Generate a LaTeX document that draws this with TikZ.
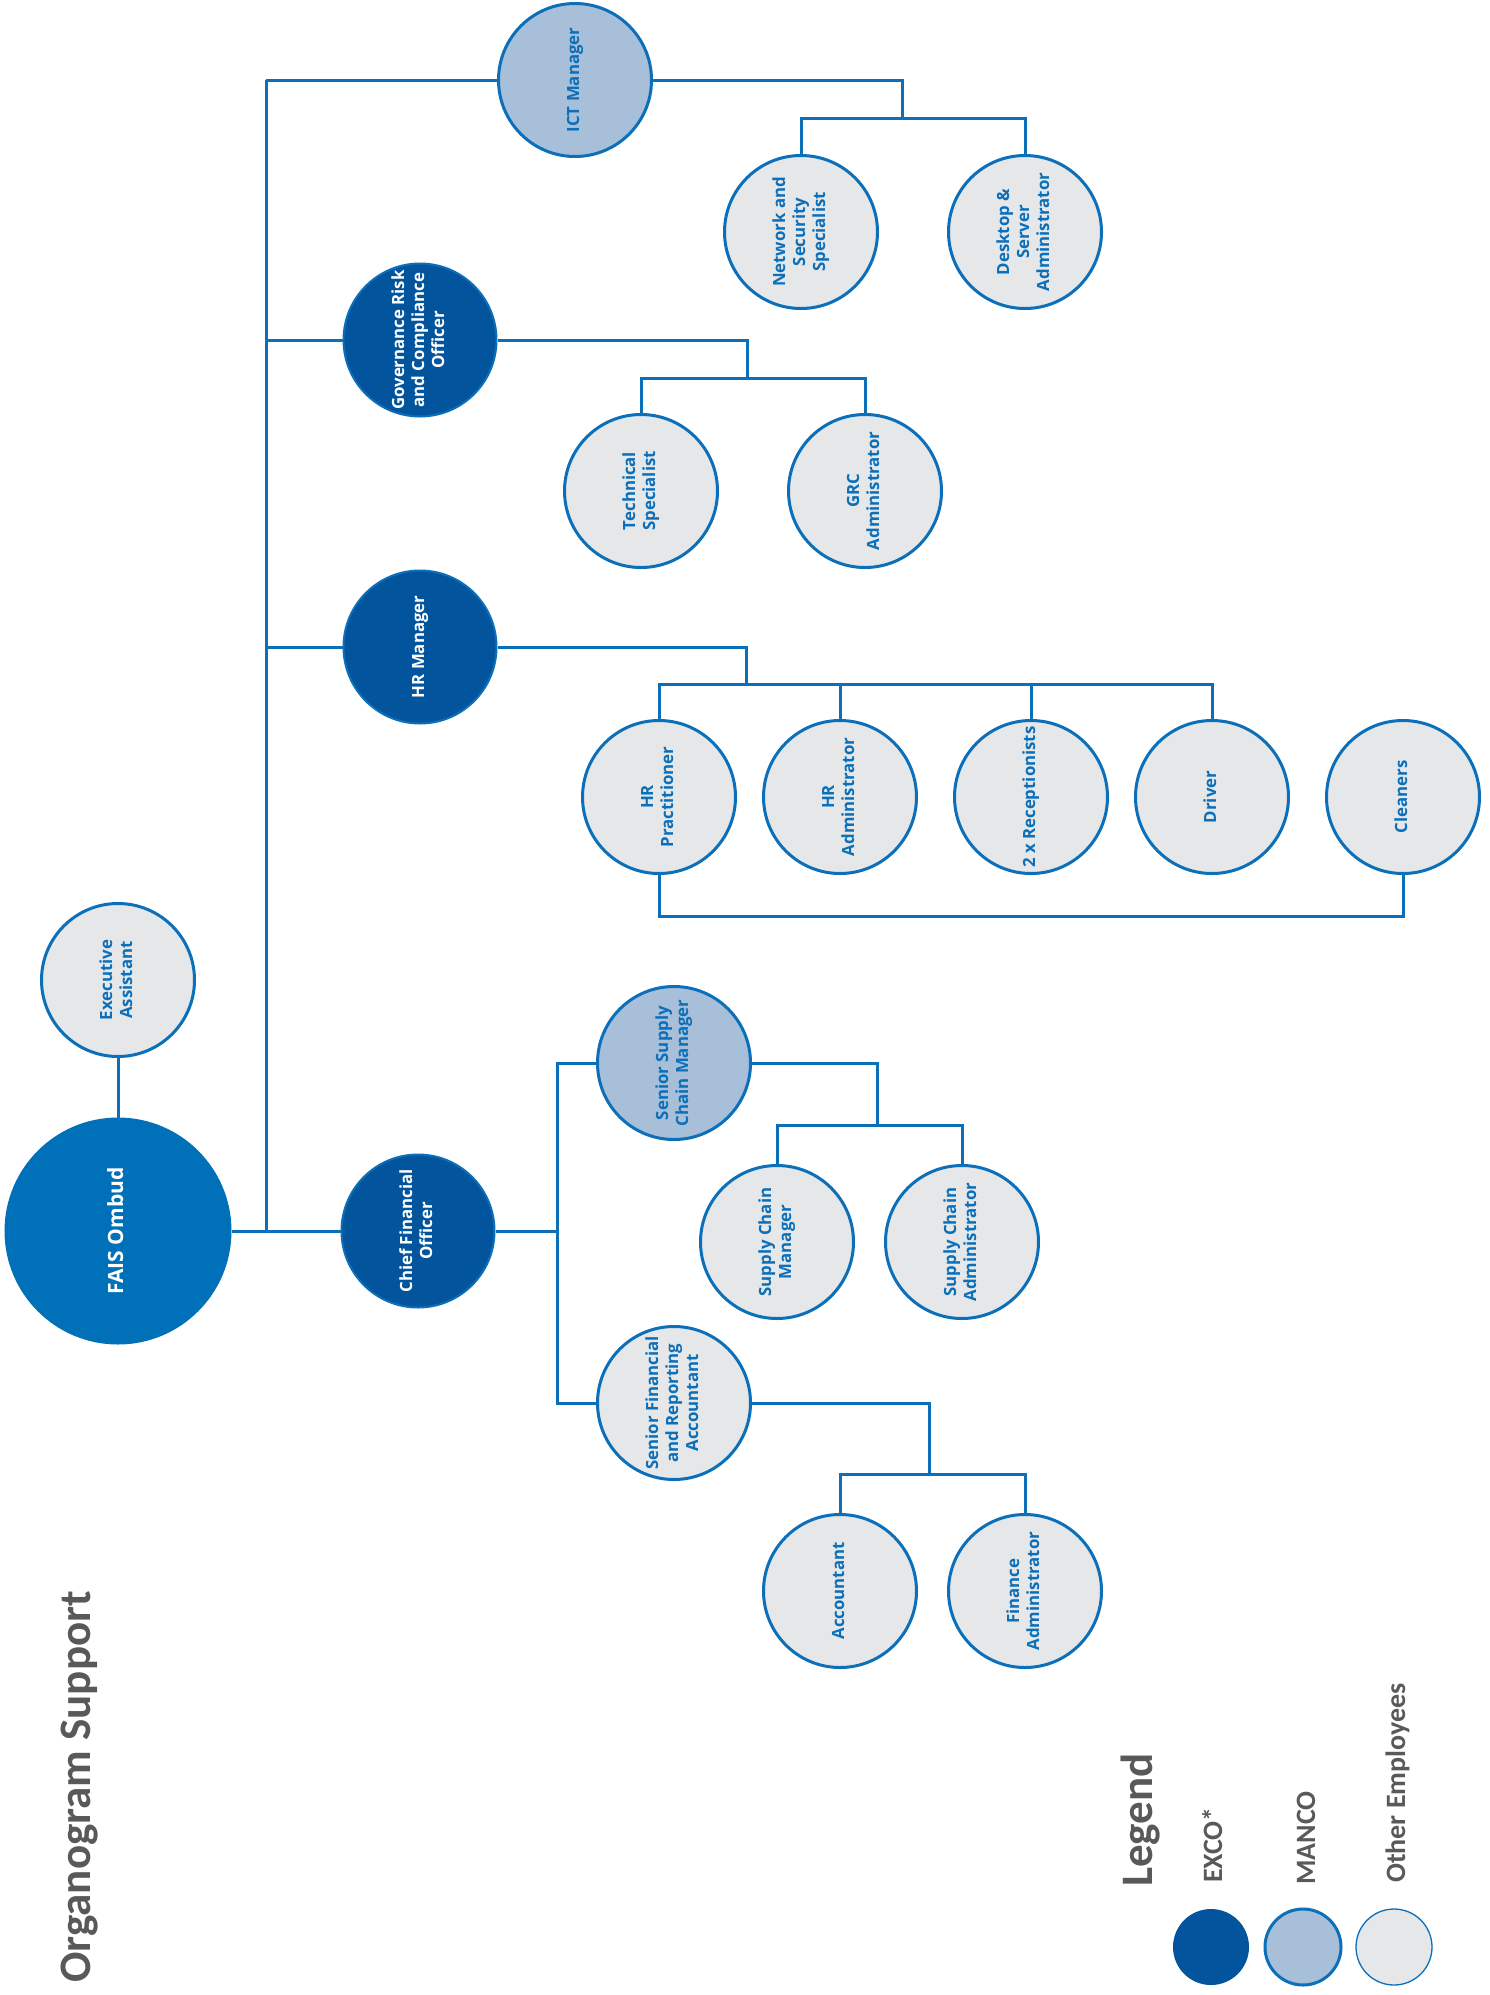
\documentclass[tikz,border=0pt]{standalone}
\usepackage{fontspec}
\usepackage{graphicx}
\usetikzlibrary{positioning}
\setmainfont{Carlito}
\newfontfamily\nodefont{Open Sans}

\definecolor{lineblue}{HTML}{0B6FBA}
\definecolor{faisblue}{HTML}{0071B9}
\definecolor{excoblue}{HTML}{02559D}
\definecolor{mancoblue}{HTML}{A7BFD8}
\definecolor{othergray}{HTML}{E6E7E8}
\definecolor{titlegray}{HTML}{595959}

\newcommand{\vtext}[1]{\rotatebox{90}{\begin{tabular}{@{}c@{}}#1\end{tabular}}}

\begin{document}
\begin{tikzpicture}[x=1pt,y=-1pt,
    base node/.style={circle,draw=lineblue,line width=3pt,minimum size=153pt,inner sep=0pt,
      font=\nodefont\bfseries\fontsize{16.8}{20}\selectfont},
    top node/.style={base node,fill=faisblue,draw=faisblue,text=white,minimum size=224pt,
      font=\nodefont\bfseries\fontsize{21}{25}\selectfont},
    exco node/.style={base node,fill=excoblue,text=white,line width=2pt},
    manco node/.style={base node,fill=mancoblue,text=lineblue},
    staff node/.style={base node,fill=othergray,text=lineblue},
    link/.style={draw=lineblue,line width=3pt},
    key node/.style={circle,minimum size=76pt,inner sep=0pt},
    vlabel/.style={rotate=90,anchor=base west,inner sep=0pt,text=titlegray},
    big label/.style={vlabel,font=\bfseries\fontsize{45}{50}\selectfont},
    small label/.style={vlabel,font=\bfseries\fontsize{28}{32}\selectfont}]

  \fill[white] (0,0) rectangle (1490,1995);
  \path[use as bounding box] (0,0) rectangle (1490,1995);

  % heads
  \node[top node]   (fais) at (118,1231) {\vtext{FAIS Ombud}};
  \node[staff node] (ea)   at (118,980)  {\vtext{Executive\\Assistant}};
  \node[exco node]  (cfo)  at (418,1231) {\vtext{Chief Financial\\Officer}};
  \node[manco node] (ict)  at (575,80)   {\vtext{ICT Manager}};
  \node[exco node]  (gov)  at (420,340)  {\vtext{Governance Risk\\and Compliance\\Officer}};
  \node[exco node]  (hrm)  at (420,647)  {\vtext{HR Manager}};

  % ict
  \node[staff node] (netsec) at (801,232)  {\vtext{Network and\\Security\\Specialist}};
  \node[staff node] (desk)   at (1025,232) {\vtext{Desktop \&\\Server\\Administrator}};

  % governance
  \node[staff node] (tech)   at (641,491)  {\vtext{Technical\\Specialist}};
  \node[staff node] (grcadm) at (865,491)  {\vtext{GRC\\Administrator}};

  % hr
  \node[staff node] (hrprac) at (659,797)  {\vtext{HR\\Practitioner}};
  \node[staff node] (hradm)  at (840,797)  {\vtext{HR\\Administrator}};
  \node[staff node] (recep)  at (1031,797) {\vtext{2 x Receptionists}};
  \node[staff node] (driver) at (1212,797) {\vtext{Driver}};
  \node[staff node] (clean)  at (1403,797) {\vtext{Cleaners}};

  % finance
  \node[manco node] (sscm) at (674,1063) {\vtext{Senior Supply\\Chain Manager}};
  \node[staff node] (scm)  at (777,1242) {\vtext{Supply Chain\\Manager}};
  \node[staff node] (sca)  at (962,1242) {\vtext{Supply Chain\\Administrator}};
  \node[staff node] (sfra) at (674,1403) {\vtext{Senior Financial\\and Reporting\\Accountant}};
  \node[staff node] (acc)  at (840,1591) {\vtext{Accountant}};
  \node[staff node] (fin)  at (1025,1591) {\vtext{Finance\\Administrator}};

  % junctions
  \coordinate (trunk)  at (266,80);
  \coordinate (ictj)   at (902,118);
  \coordinate (govj)   at (747,378);
  \coordinate (hrj)    at (746,684);
  \coordinate (hrbot)  at (1000,916);
  \coordinate (cfoj)   at (557,1231);
  \coordinate (sscmj)  at (877,1125);
  \coordinate (sfraj)  at (929,1474);

  \path[link] (ea) -- (fais)
        (fais) -- (cfo)
        (trunk) -- (trunk |- fais)
        (trunk) -- (ict)
        (trunk |- gov) -- (gov)
        (trunk |- hrm) -- (hrm)
        (ict) -| (ictj)
        (netsec) |- (ictj) -| (desk)
        (gov) -| (govj)
        (tech) |- (govj) -| (grcadm)
        (hrm) -| (hrj)
        (hrprac) |- (hrj) -| (driver)
        (hradm) -- (hradm |- hrj)
        (recep) -- (recep |- hrj)
        (hrprac) |- (hrbot) -| (clean)
        (cfo) -- (cfoj)
        (sscm) -| (cfoj)
        (sfra) -| (cfoj)
        (sscm) -| (sscmj)
        (scm) |- (sscmj) -| (sca)
        (sfra) -| (sfraj)
        (acc) |- (sfraj) -| (fin);

  % title and legend
  \node[big label] (title) at (90,1983) {Organogram Support};
  \node[big label] (legend) at (1152,1887) {Legend};
  \node[small label] (excolab) at (1222,1883) {EXCO*};
  \node[small label] (mancolab) at (1315,1885) {MANCO};
  \node[small label] (otherlab) at (1405,1883) {Other Employees};
  \node[key node,fill=excoblue] (excokey) at (1211,1947) {};
  \node[key node,fill=mancoblue,draw=lineblue,line width=3pt] (mancokey) at (1303,1947) {};
  \node[key node,fill=othergray,draw=lineblue,line width=1.3pt] (otherkey) at (1394,1947) {};

\end{tikzpicture}
\end{document}
